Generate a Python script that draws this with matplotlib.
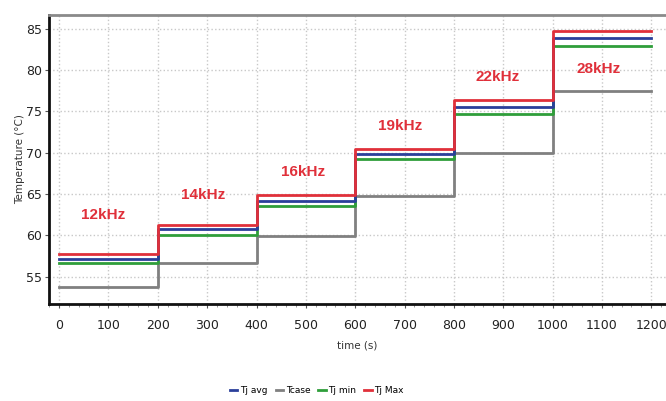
import matplotlib
matplotlib.use("Agg")
import matplotlib.pyplot as plt
from matplotlib.ticker import MultipleLocator
from matplotlib.lines import Line2D

# step edges (s) and levels for each frequency step
t_edges = [0, 200, 400, 600, 800, 1000, 1200]
tj_max = [57.8, 61.3, 64.9, 70.5, 76.4, 84.8]
tj_avg = [57.2, 60.8, 64.2, 69.8, 75.5, 83.9]
tj_min = [56.7, 60.1, 63.5, 69.2, 74.7, 82.9]
tcase = [53.8, 56.7, 59.9, 64.8, 70.0, 77.5]

freq_labels = ['12kHz', '14kHz', '16kHz', '19kHz', '22kHz', '28kHz']
label_x = [89, 292, 495, 692, 888, 1093]
label_y = [62.5, 64.9, 67.7, 73.3, 79.2, 80.2]

c_red = '#e0303a'
c_blue = '#2a3f9a'
c_green = '#2f9e3a'
c_gray = '#808080'

plt.rcParams['font.family'] = ['Liberation Sans Narrow', 'DejaVu Sans']

fig = plt.figure(figsize=(6.66, 4.01), dpi=100)
ax = fig.add_axes([0.074, 0.242, 0.926, 0.721])

def stepline(vals, color):
    ax.plot(t_edges, vals + [vals[-1]], drawstyle='steps-post', color=color, linewidth=2.0)

stepline(tcase, c_gray)
stepline(tj_min, c_green)
stepline(tj_avg, c_blue)
stepline(tj_max, c_red)

for i in range(len(freq_labels)):
    ax.text(label_x[i], label_y[i], freq_labels[i], color=c_red, fontsize=11,
            fontweight='bold', ha='center', va='center', family=['Liberation Sans', 'DejaVu Sans'])

ax.set_xlim(-20, 1230)
ax.set_ylim(51.7, 86.7)
ax.xaxis.set_major_locator(MultipleLocator(100))
ax.xaxis.set_minor_locator(MultipleLocator(20))
ax.yaxis.set_major_locator(MultipleLocator(5))
ax.grid(True, which='major', color='#c8c8c8', linestyle=':', linewidth=1.0)
ax.set_axisbelow(True)

ax.tick_params(axis='both', which='major', labelsize=9, colors='#555555', labelcolor='#222222', length=3)
ax.tick_params(axis='x', which='major', pad=8)
ax.tick_params(axis='y', which='major', pad=2)
ax.tick_params(axis='x', which='minor', length=2, colors='#888888')
ax.set_xlabel('time (s)', fontsize=7.5, color='#333333', labelpad=6)
ax.set_ylabel('Temperature (°C)', fontsize=7.5, color='#333333')
ax.yaxis.set_label_coords(-0.04, 0.5)

ax.spines['left'].set_linewidth(2)
ax.spines['left'].set_color('#111111')
ax.spines['bottom'].set_linewidth(2)
ax.spines['bottom'].set_color('#111111')
ax.spines['top'].set_linewidth(2)
ax.spines['top'].set_color('#8a8a8a')
ax.spines['right'].set_visible(False)

handles = [Line2D([], [], color=c_blue, linewidth=2),
           Line2D([], [], color=c_gray, linewidth=2),
           Line2D([], [], color=c_green, linewidth=2),
           Line2D([], [], color=c_red, linewidth=2)]
fig.legend(handles, ['Tj avg', 'Tcase', 'Tj min', 'Tj Max'], loc='center',
           bbox_to_anchor=(0.476, 0.025), ncol=4, frameon=False, fontsize=6.5,
           handlelength=0.8, handletextpad=0.3, columnspacing=0.9)

fig.savefig('out.png', dpi=100)
